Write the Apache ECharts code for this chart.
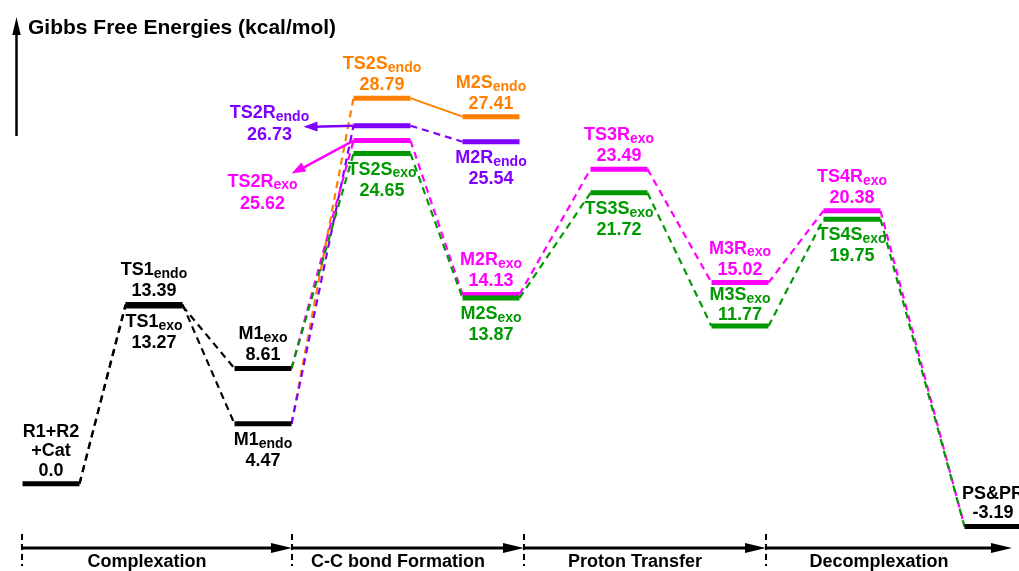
<!DOCTYPE html>
<html>
<head>
<meta charset="utf-8">
<title>Gibbs Free Energies</title>
<script src="https://cdn.jsdelivr.net/npm/echarts@6/dist/echarts.min.js"></script>
<style>
  html, body { margin: 0; padding: 0; background: #fff; }
  #main { width: 1019px; height: 571px; }
</style>
</head>
<body>
<div id="main"></div>
<script>
// reaction coordinate of each stage: R1, TS1, M1, TS2, M2, TS3, M3, TS4, PS
const stageX = [0.51, 1.54, 2.63, 3.82, 4.91, 6.19, 7.40, 8.52, 9.93];

const sectionNames = ['Complexation', 'C-C bond Formation', 'Proton Transfer', 'Decomplexation'];
const sectionEdges = [0.22, 2.92, 5.24, 7.66, 10.12];

// species on the profile
const speciesName = ['R1+R2\n+Cat', 'TS1', 'TS1', 'M1', 'M1', 'TS2S', 'TS2R', 'TS2R', 'TS2S',
    'M2S', 'M2R', 'M2R', 'M2S', 'TS3R', 'TS3S', 'M3R', 'M3S', 'TS4R', 'TS4S', 'PS&PR'];
const speciesSub = ['', 'endo', 'exo', 'exo', 'endo', 'endo', 'endo', 'exo', 'exo',
    'endo', 'endo', 'exo', 'exo', 'exo', 'exo', 'exo', 'exo', 'exo', 'exo', ''];
const speciesStage = [0, 1, 1, 2, 2, 3, 3, 3, 3, 4, 4, 4, 4, 5, 5, 6, 6, 7, 7, 8];
const speciesPath = ['base', 'base', 'base', 'base', 'base', 'Sendo', 'Rendo', 'Rexo', 'Sexo',
    'Sendo', 'Rendo', 'Rexo', 'Sexo', 'Rexo', 'Sexo', 'Rexo', 'Sexo', 'Rexo', 'Sexo', 'base'];
const energies = [0.0, 13.39, 13.27, 8.61, 4.47, 28.79, 26.73, 25.62, 24.65,
    27.41, 25.54, 14.13, 13.87, 23.49, 21.72, 15.02, 11.77, 20.38, 19.75, -3.19];

// connections: from species, to species, pathway
const links = [
    [0, 1, 'base'], [0, 2, 'base'], [2, 3, 'base'], [1, 4, 'base'],
    [4, 5, 'Sendo'], [5, 9, 'Sendo'],
    [4, 6, 'Rendo'], [6, 10, 'Rendo'],
    [3, 7, 'Rexo'], [7, 11, 'Rexo'], [11, 13, 'Rexo'], [13, 15, 'Rexo'], [15, 17, 'Rexo'], [17, 19, 'Rexo'],
    [3, 8, 'Sexo'], [8, 12, 'Sexo'], [12, 14, 'Sexo'], [14, 16, 'Sexo'], [16, 18, 'Sexo'], [18, 19, 'Sexo']
];

// ---- look ----
const HW = 0.285;   // half length of a level bar (x units)
const Y_MIN = -4.8;
const FONT = '"Liberation Sans", Arial, sans-serif';
const pathColor = {base: '#000000', Sendo: '#ff8000', Rendo: '#8000ff', Rexo: '#ff00ff', Sexo: '#009900'};
const solidLinks = {'5-9': true};
const labelSide = ['top', 'top', 'bottom', 'top', 'bottom', 'top', 'left', 'leftDown', 'bottom',
    'top', 'bottom', 'top', 'bottom', 'top', 'bottom', 'top', 'topTight', 'top', 'bottom', 'top'];

function valueText(v) {
    return v === 0 ? '0.0' : v.toFixed(2);
}

function arrowHead(x1, y1, x2, y2, len, half, color) {
    let dx = x2 - x1, dy = y2 - y1;
    const d = Math.sqrt(dx * dx + dy * dy);
    dx /= d; dy /= d;
    const bx = x2 - dx * len, by = y2 - dy * len;
    return {
        type: 'polygon',
        shape: {points: [[x2, y2], [bx - dy * half, by + dx * half], [bx + dy * half, by - dx * half]]},
        style: {fill: color}
    };
}

function nameEl(i, x, y, va, color) {
    const sub = speciesSub[i];
    const base = {fontSize: 18, fontWeight: 'bold', fontFamily: FONT, fill: color};
    if (!sub) {
        return {type: 'text', x: x, y: y, style: Object.assign({
            text: speciesName[i], align: 'center', verticalAlign: va, lineHeight: 19}, base)};
    }
    return {
        type: 'text', x: x, y: y,
        style: Object.assign({
            text: '{n|' + speciesName[i] + '}{s|' + sub + '}',
            align: 'center', verticalAlign: va,
            rich: {
                n: Object.assign({lineHeight: 22}, base),
                s: {fontSize: 14, fontWeight: 'bold', fontFamily: FONT, fill: color, lineHeight: 12, verticalAlign: 'bottom'}
            }
        }, base)
    };
}

function valueEl(i, x, y, color) {
    return {
        type: 'text', x: x, y: y,
        style: {text: valueText(energies[i]), align: 'center', verticalAlign: 'middle',
            fontSize: 18, fontWeight: 'bold', fontFamily: FONT, fill: color}
    };
}

function renderLevel(params, api) {
    const x = api.value(0), e = api.value(1), i = api.value(2);
    const pL = api.coord([x - HW, e]);
    const pR = api.coord([x + HW, e]);
    const y = pL[1];
    const cx = (pL[0] + pR[0]) / 2;
    const color = pathColor[speciesPath[i]];
    const kids = [{
        type: 'line',
        shape: {x1: pL[0], y1: y, x2: pR[0], y2: y},
        style: {stroke: color, lineWidth: 5}
    }];
    const side = labelSide[i];
    if (side === 'top') {
        kids.push(nameEl(i, cx, y - 23, 'bottom', color));
        kids.push(valueEl(i, cx, y - 13, color));
    } else if (side === 'topTight') {
        kids.push(nameEl(i, cx, y - 20, 'bottom', color));
        kids.push(valueEl(i, cx, y - 11, color));
    } else if (side === 'bottom') {
        kids.push(nameEl(i, cx, y + 5, 'top', color));
        kids.push(valueEl(i, cx, y + 37, color));
    } else if (side === 'left') {
        kids.push(nameEl(i, pL[0] - 84, y - 13, 'middle', color));
        kids.push(valueEl(i, pL[0] - 84, y + 9, color));
        kids.push({type: 'line', shape: {x1: pL[0], y1: y, x2: pL[0] - 40, y2: y + 1},
            style: {stroke: color, lineWidth: 2.5}});
        kids.push(arrowHead(pL[0], y, pL[0] - 50, y + 1, 14, 5, color));
    } else if (side === 'leftDown') {
        kids.push(nameEl(i, pL[0] - 91, y + 41, 'middle', color));
        kids.push(valueEl(i, pL[0] - 91, y + 63, color));
        kids.push({type: 'line', shape: {x1: pL[0], y1: y, x2: pL[0] - 50, y2: y + 27},
            style: {stroke: color, lineWidth: 2.5}});
        kids.push(arrowHead(pL[0], y, pL[0] - 62, y + 33, 14, 5, color));
    }
    return {type: 'group', children: kids};
}

function renderLink(params, api) {
    const a = api.coord([api.value(0), api.value(1)]);
    const b = api.coord([api.value(2), api.value(3)]);
    const l = links[api.value(4)];
    const solid = solidLinks[l[0] + '-' + l[1]];
    return {
        type: 'line',
        shape: {x1: a[0], y1: a[1], x2: b[0], y2: b[1]},
        style: {stroke: pathColor[l[2]], lineWidth: solid ? 2 : 2.2, lineDash: solid ? null : [7, 5]}
    };
}

function renderSection(params, api) {
    const p1 = api.coord([api.value(0), api.value(1)]);
    const p2 = api.coord([api.value(2), api.value(1)]);
    const i = api.value(3);
    const y = p1[1];
    return {
        type: 'group',
        children: [
            {type: 'line', shape: {x1: p1[0], y1: y, x2: p2[0] - 10, y2: y},
                style: {stroke: '#000', lineWidth: 3}},
            arrowHead(p1[0], y, p2[0], y, 21, 5, '#000'),
            {type: 'line', shape: {x1: p1[0], y1: y - 14, x2: p1[0], y2: y + 18},
                style: {stroke: '#000', lineWidth: 2, lineDash: [6, 4]}},
            {type: 'text', x: (p1[0] + p2[0]) / 2 - 10, y: y + 14,
                style: {text: sectionNames[i], align: 'center', verticalAlign: 'middle',
                    fontSize: 18, fontWeight: 'bold', fontFamily: FONT, fill: '#000'}}
        ]
    };
}

const levelData = energies.map((e, i) => [stageX[speciesStage[i]], e, i]);
const linkData = links.map((l, k) => [
    stageX[speciesStage[l[0]]] + HW, energies[l[0]],
    stageX[speciesStage[l[1]]] - HW, energies[l[1]], k
]);
const sectionData = sectionNames.map((s, i) => [sectionEdges[i], Y_MIN, sectionEdges[i + 1], i]);

const chart = echarts.init(document.getElementById('main'));
chart.setOption({
    animation: false,
    backgroundColor: '#fff',
    title: {
        text: 'Gibbs Free Energies (kcal/mol)',
        left: 23, top: 13,
        textStyle: {fontSize: 21, fontWeight: 'bold', fontFamily: FONT, color: '#000'}
    },
    grid: {left: 0, right: 0, top: 15, bottom: 23},
    xAxis: {type: 'value', min: 0, max: 10.19, show: false},
    yAxis: {type: 'value', min: Y_MIN, max: 35, show: false},
    graphic: [
        {type: 'line', shape: {x1: 16.5, y1: 136, x2: 16.5, y2: 30}, style: {stroke: '#000', lineWidth: 2.5}},
        {type: 'polygon', shape: {points: [[16.5, 17], [12.3, 35], [20.7, 35]]}, style: {fill: '#000'}}
    ],
    series: [
        {type: 'custom', renderItem: renderLink, data: linkData, encode: {x: [0, 2], y: [1, 3]}, silent: true},
        {type: 'custom', renderItem: renderLevel, data: levelData, encode: {x: 0, y: 1}, silent: true},
        {type: 'custom', renderItem: renderSection, data: sectionData, encode: {x: [0, 2], y: 1}, silent: true}
    ]
});
</script>
</body>
</html>
